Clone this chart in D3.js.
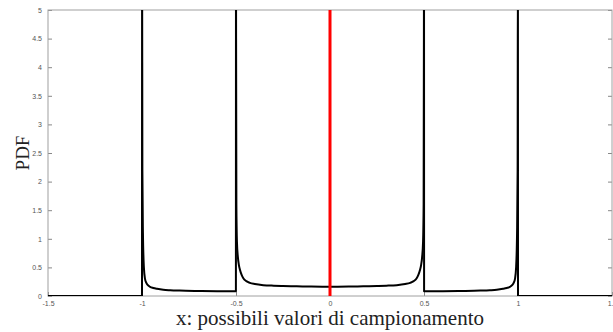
<!DOCTYPE html>
<html>
  <head>
    <meta charset="utf-8">
    <script src="https://d3js.org/d3.v7.min.js"></script>
    <style>
      body { margin: 0; background: #fff; }
      .tick text { font-family: Helvetica, Arial, sans-serif; font-size: 7px; fill: #555; }
      .label { font-family: "Liberation Serif", "DejaVu Serif", serif; fill: #222; }
    </style>
  </head>
  <body>
    <svg width="613" height="332"></svg>
    <script>
    // PDF, one array per segment
    var xOut = [-1.5, -1.0001];
    var yOut = [0, 0];
    var xLeft = [-1.0001, -0.9995, -0.998, -0.995, -0.99, -0.984, -0.977, -0.97, -0.957, -0.94, -0.92, -0.887, -0.85, -0.8, -0.71, -0.6, -0.51, -0.5005, -0.5001];
    var yLeft = [0, 6, 2.2, 1.1, 0.5, 0.3, 0.23, 0.195, 0.16, 0.14, 0.125, 0.108, 0.1, 0.094, 0.088, 0.084, 0.082, 0.082, 6];
    var xMid = [-0.4999, -0.4995, -0.498, -0.495, -0.49, -0.485, -0.479, -0.47, -0.461, -0.445, -0.426, -0.4, -0.355, -0.3, -0.25, -0.177, -0.1, 0, 0.1, 0.177, 0.25, 0.3, 0.355, 0.4, 0.426, 0.445, 0.461, 0.47, 0.479, 0.485, 0.49, 0.495, 0.498, 0.4995, 0.4999];
    var yMid = [6, 4.5, 1.6, 0.95, 0.68, 0.55, 0.46, 0.37, 0.31, 0.26, 0.23, 0.21, 0.19, 0.18, 0.175, 0.17, 0.165, 0.163, 0.165, 0.17, 0.175, 0.18, 0.19, 0.21, 0.23, 0.26, 0.31, 0.37, 0.46, 0.55, 0.68, 0.95, 1.6, 4.5, 6];
    var xRight = [0.5001, 0.5005, 0.51, 0.6, 0.71, 0.8, 0.85, 0.887, 0.92, 0.94, 0.957, 0.97, 0.977, 0.984, 0.99, 0.995, 0.998, 0.9995, 1.0001];
    var yRight = [6, 0.082, 0.082, 0.084, 0.088, 0.094, 0.1, 0.108, 0.125, 0.14, 0.16, 0.195, 0.23, 0.3, 0.5, 1.1, 2.2, 6, 0];
    var xEnd = [1.0001, 1.5];
    var yEnd = [0, 0];
    var redX = [0, 0];
    var redY = [0, 5];
    var xTicks = [-1.5, -1, -0.5, 0, 0.5, 1, 1.5];
    var yTicks = [0, 0.5, 1, 1.5, 2, 2.5, 3, 3.5, 4, 4.5, 5];

    var svg = d3.select("svg"),
        margin = {top: 10, right: 1, bottom: 36, left: 48},
        width = +svg.attr("width") - margin.left - margin.right,
        height = +svg.attr("height") - margin.top - margin.bottom,
        g = svg.append("g").attr("transform", "translate(" + margin.left + "," + margin.top + ")");

    var x = d3.scaleLinear().domain([-1.5, 1.5]).range([0, width]),
        y = d3.scaleLinear().domain([0, 5]).range([height, 0]);

    svg.append("clipPath").attr("id", "clip")
      .append("rect").attr("width", width).attr("height", height);

    function fmt(d) { return String(d); }

    function styleAxis(sel) {
      sel.select(".domain").remove();
      sel.selectAll(".tick line").attr("stroke", "#888");
    }

    g.append("g")
        .attr("transform", "translate(0," + height + ")")
        .call(d3.axisBottom(x).tickValues(xTicks).tickFormat(fmt).tickSizeInner(-4).tickSizeOuter(0).tickPadding(5))
        .call(styleAxis);
    g.append("g")
        .call(d3.axisLeft(y).tickValues(yTicks).tickFormat(fmt).tickSizeInner(-4).tickSizeOuter(0).tickPadding(6))
        .call(styleAxis);
    g.append("g")
        .attr("transform", "translate(" + width + ",0)")
        .call(d3.axisRight(y).tickValues(yTicks).tickSizeInner(-4).tickSizeOuter(0).tickFormat(""))
        .call(styleAxis);

    g.append("rect")
        .attr("width", width).attr("height", height)
        .attr("fill", "none").attr("stroke", "#a0a0a0").attr("stroke-width", 1);

    var line = d3.line()
        .curve(d3.curveMonotoneX)
        .x(function(d) { return x(d[0]); })
        .y(function(d) { return y(d[1]); });

    var segs = [[xOut, yOut], [xLeft, yLeft], [xMid, yMid], [xRight, yRight], [xEnd, yEnd]];
    var plot = g.append("g").attr("clip-path", "url(#clip)");
    segs.forEach(function(s) {
      plot.append("path")
          .datum(d3.zip(s[0], s[1]))
          .attr("fill", "none")
          .attr("stroke", "#000")
          .attr("stroke-width", 2)
          .attr("stroke-linejoin", "round")
          .attr("d", line);
    });

    plot.append("path")
        .datum(d3.zip(redX, redY))
        .attr("fill", "none")
        .attr("stroke", "#ff0000")
        .attr("stroke-width", 3)
        .attr("d", line);

    svg.append("text")
        .attr("class", "label")
        .attr("transform", "translate(29," + (margin.top + height / 2) + ") rotate(-90)")
        .attr("text-anchor", "middle")
        .attr("font-size", 19)
        .text("PDF");

    svg.append("text")
        .attr("class", "label")
        .attr("x", margin.left + width / 2)
        .attr("y", 325)
        .attr("text-anchor", "middle")
        .attr("font-size", 21)
        .text("x: possibili valori di campionamento");
    </script>
  </body>
</html>
